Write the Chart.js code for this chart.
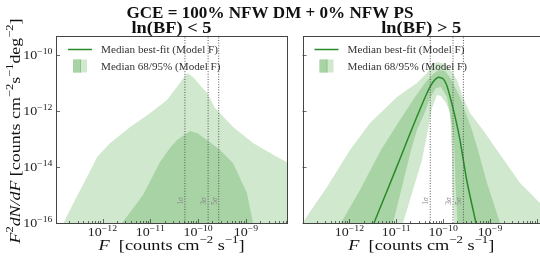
<!DOCTYPE html>
<html><head><meta charset="utf-8">
<script src="https://cdn.jsdelivr.net/npm/chart.js@4/dist/chart.umd.min.js"></script>
<style>
html,body{margin:0;padding:0;background:#ffffff;}
#wrap{position:relative;width:540px;height:262px;overflow:hidden;background:#fff;}
#wrap canvas{position:absolute;left:0;top:0;}
</style></head><body>
<div id="wrap"><canvas id="cL" width="540" height="262"></canvas><canvas id="cR" width="540" height="262"></canvas></div>
<script>
// ---------------- data ----------------
const figTitle = 'GCE = 100% NFW DM + 0% NFW PS';
const panelTitles = ['ln(BF) < 5', 'ln(BF) > 5'];
const legendLabels = ['Median best-fit (Model F)', 'Median 68/95% (Model F)'];
const xTickExps = [-12, -11, -10, -9];
const yTickExps = [-16, -14, -12, -10];
const sigmaNames = ['1', '3', '5'];
const sigmaFlux = [5.3e-11, 1.62e-10, 2.7e-10];

// left panel: ln(BF) < 5  (upper edges of 95% and 68% bands, lower edges below plot)
const leftF95 = [1.17e-13, 1.52e-13, 2.66e-13, 5.0e-13, 7.7e-13, 1.45e-12, 3.8e-12, 1.0e-11, 2.24e-11, 4.2e-11, 5.9e-11, 7.8e-11, 1.1e-10, 1.55e-10, 2.24e-10, 5.4e-10, 1.41e-9, 4.5e-9, 9.1e-9];
const leftU95 = [3.7e-17, 1e-16, 6.6e-16, 5.1e-15, 2.24e-14, 7.1e-14, 2.63e-13, 8.3e-13, 2.4e-12, 9.8e-12, 2.19e-11, 1.58e-11, 8.1e-12, 4.3e-12, 1.26e-12, 2.63e-13, 7.1e-14, 2.24e-14, 1.17e-14];
const leftF68 = [2.11e-12, 2.56e-12, 7.03e-12, 1.60e-11, 2.58e-11, 3.62e-11, 6.78e-11, 9.49e-11, 1.53e-10, 2.87e-10, 5.37e-10, 1.05e-9, 1.41e-9, 1.63e-9];
const leftU68 = [3.7e-17, 1e-16, 9.9e-16, 1.49e-14, 4.69e-14, 9.04e-14, 1.89e-13, 1.60e-13, 9.04e-14, 3.98e-14, 1.37e-14, 1.17e-15, 1e-16, 3.7e-17];

// right panel: ln(BF) > 5
const rightFU95 = [7.26e-14, 1.03e-13, 3.33e-13, 1.03e-12, 2.75e-12, 1.035e-11, 2.76e-11, 4.52e-11, 5.50e-11, 7.38e-11, 1.09e-10, 1.54e-10, 1.97e-10, 2.64e-10, 3.72e-10, 7.06e-10, 1.40e-9, 4.35e-9, 1.16e-8, 1.89e-8];
const rightU95 = [4.8e-17, 1.09e-16, 1.91e-15, 3.98e-14, 3.64e-13, 3.07e-12, 9.68e-12, 2.20e-11, 3.90e-11, 5.41e-11, 4.59e-11, 2.39e-11, 1.24e-11, 3.07e-12, 8.27e-13, 2.05e-13, 3.98e-14, 2.66e-15, 5.16e-16, 2.27e-16];
const rightFL95 = [7.26e-14, 1.087e-11, 1.39e-11, 2.27e-11, 3.53e-11, 4.74e-11, 5.77e-11, 7.38e-11, 8.97e-11, 1.15e-10, 1.40e-10, 1.52e-10, 1.58e-10, 1.70e-10, 1.79e-10, 1.89e-8];
const rightL95 = [1e-20, 2.48e-17, 1e-16, 1.50e-15, 1.75e-14, 2.05e-13, 1.245e-12, 3.62e-12, 3.33e-12, 1.88e-12, 8.97e-13, 3.98e-14, 2.66e-15, 1e-16, 2.48e-17, 1e-20];
const rightFU68 = [6.0e-13, 6.62e-13, 1.68e-12, 4.72e-12, 1.20e-11, 2.27e-11, 4.09e-11, 6.07e-11, 8.13e-11, 1.09e-10, 1.47e-10, 2.28e-10, 4.11e-10, 5.52e-10, 8.59e-10, 1.63e-9, 1.88e-9];
const rightU68 = [3.7e-17, 1e-16, 1.50e-15, 3.98e-14, 4.66e-13, 2.40e-12, 9.68e-12, 2.02e-11, 2.81e-11, 2.59e-11, 1.34e-11, 3.07e-12, 2.05e-13, 3.98e-14, 2.66e-15, 1e-16, 4.8e-17];
const rightFL68 = [6.0e-13, 6.65e-12, 8.51e-12, 1.39e-11, 2.06e-11, 2.76e-11, 4.09e-11, 5.24e-11, 7.01e-11, 8.97e-11, 1.205e-10, 1.60e-10, 1.74e-10, 1.83e-10, 2.02e-10, 2.17e-10, 1.88e-9];
const rightL68 = [1e-20, 2.48e-17, 1e-16, 2.66e-15, 3.98e-14, 2.05e-13, 8.97e-13, 2.83e-12, 6.42e-12, 6.97e-12, 3.07e-12, 2.05e-13, 3.98e-14, 2.66e-15, 1e-16, 2.48e-17, 1e-20];
const rightFMed = [2.89e-12, 3.35e-12, 6.34e-12, 1.30e-11, 1.77e-11, 2.72e-11, 4.45e-11, 6.07e-11, 7.87e-11, 1.005e-10, 1.205e-10, 1.40e-10, 1.79e-10, 2.28e-10, 3.17e-10, 5.0e-10, 5.52e-10];
const rightMed = [4.8e-17, 1e-16, 1.38e-15, 2.7e-14, 1.0e-13, 5.8e-13, 4.0e-12, 1.05e-11, 1.55e-11, 1.34e-11, 7.56e-12, 3.15e-12, 6.11e-13, 9.04e-14, 3.40e-15, 1e-16, 4.8e-17];

// axis limits
const Y_MIN = 1e-16, Y_MAX = 4.75e-10;
const L_XMIN = 1.064e-13, L_XMAX = 7.24e-9;
const R_XMIN = 1.0e-13, R_XMAX = 1.16e-8;

// ---------------- style ----------------
const SERIF = '"Liberation Serif","DejaVu Serif","Times New Roman",serif';
const C_LIGHT = 'rgb(208,232,205)';
const C_MED = 'rgb(168,211,165)';
const C_LINE = 'rgb(40,138,40)';
const C_AXIS = '#444';

function pts(xs, ys) { return xs.map((x, i) => ({ x: x, y: ys[i] })); }
function fnt(sz, it, bold) { return (it ? 'italic ' : '') + (bold ? 'bold ' : '') + sz + 'px ' + SERIF; }
function richWidth(ctx, segs, size, bold) {
  let w = 0;
  for (const s of segs) {
    ctx.font = fnt(s.sup ? size * 0.7 : size, s.it, bold);
    w += ctx.measureText(s.t).width;
  }
  return w;
}
function drawRich(ctx, segs, x, y, o) {
  const size = o.size, bold = !!o.bold;
  const w = richWidth(ctx, segs, size, bold);
  const sx = o.width ? o.width / w : (o.sx || 1);
  ctx.save();
  ctx.translate(x, y);
  if (o.rot) ctx.rotate(o.rot);
  ctx.scale(sx, 1);
  let cx = o.align === 'center' ? -w / 2 : (o.align === 'right' ? -w : 0);
  ctx.fillStyle = o.color || '#111';
  ctx.textBaseline = 'alphabetic';
  ctx.textAlign = 'left';
  for (const s of segs) {
    const sz = s.sup ? size * 0.7 : size;
    ctx.font = fnt(sz, s.it, bold);
    ctx.fillText(s.t, cx, s.sup ? -size * 0.42 : 0);
    cx += ctx.measureText(s.t).width;
  }
  ctx.restore();
}
function expLabel(e) { return [{ t: '10' }, { t: '\u2212' + Math.abs(e), sup: true }]; }

function makeDecor(p) {
  return {
    id: 'decor' + p.idx,
    afterDraw(chart) {
      const ctx = chart.ctx, a = chart.chartArea, xs = chart.scales.x, ys = chart.scales.y;
      ctx.save();
      // tick marks (inward)
      ctx.strokeStyle = C_AXIS; ctx.lineWidth = 0.8;
      ctx.beginPath();
      const lo = Math.floor(Math.log10(xs.min)), hi = Math.ceil(Math.log10(xs.max));
      for (let n = lo; n <= hi; n++) {
        for (let k = 1; k <= 9; k++) {
          const v = k * Math.pow(10, n);
          if (v < xs.min || v > xs.max) continue;
          const px = Math.round(xs.getPixelForValue(v)) + 0.5;
          const len = k === 1 ? 4 : 2;
          ctx.moveTo(px, a.bottom); ctx.lineTo(px, a.bottom - len);
        }
      }
      for (const e of yTickExps) {
        const py = Math.round(ys.getPixelForValue(Math.pow(10, e))) + 0.5;
        ctx.moveTo(a.left, py); ctx.lineTo(a.left + 4, py);
      }
      ctx.stroke();
      // frame
      ctx.lineWidth = 1; ctx.strokeStyle = C_AXIS;
      const L = Math.round(a.left) + 0.5, T = Math.round(a.top) + 0.5, R = Math.round(a.right) + 0.5, B = Math.round(a.bottom) + 0.5;
      ctx.strokeRect(L, T, R - L, B - T);
      ctx.restore();

      // x tick labels
      for (const e of xTickExps) {
        const px = xs.getPixelForValue(Math.pow(10, e));
        drawRich(ctx, expLabel(e), px, a.bottom + 13, { size: 12.5, align: 'center', sx: 1.12, color: '#222' });
      }
      // y tick labels
      if (p.yLabels) {
        for (const e of yTickExps) {
          const py = ys.getPixelForValue(Math.pow(10, e));
          drawRich(ctx, expLabel(e), a.left - 3.5, py + 4.3, { size: 12.5, align: 'right', sx: 1.12, color: '#222' });
        }
        drawRich(ctx, [{ t: 'F', it: 1 }, { t: '2', sup: 1 }, { t: 'dN/dF', it: 1 }, { t: ' [counts cm' }, { t: '\u22122', sup: 1 }, { t: 's' }, { t: '\u22121', sup: 1 }, { t: 'deg' }, { t: '\u22122', sup: 1 }, { t: ']' }],
          19.5, 131, { size: 15.5, width: 225, rot: -Math.PI / 2, align: 'center', color: '#111' });
      }
      // x axis label
      const cxp = (a.left + a.right) / 2;
      drawRich(ctx, [{ t: 'F', it: 1 }, { t: '  [counts cm' }, { t: '\u22122', sup: 1 }, { t: ' s' }, { t: '\u22121', sup: 1 }, { t: ']' }],
        cxp, 249.5, { size: 15.5, width: 146, align: 'center', color: '#111' });
      // panel title
      drawRich(ctx, [{ t: panelTitles[p.idx] }], cxp, 32.5, { size: 16, bold: true, width: 80, align: 'center', color: '#111' });
      // sigma labels
      for (let i = 0; i < sigmaFlux.length; i++) {
        const px = xs.getPixelForValue(sigmaFlux[i]);
        drawRich(ctx, [{ t: sigmaNames[i] }, { t: '\u03c3', it: 1 }], px - 2.2, 201, { size: 7.5, rot: -Math.PI / 2, align: 'center', color: '#888' });
      }
      // legend
      const lx = a.left;
      ctx.save();
      ctx.strokeStyle = C_LINE; ctx.lineWidth = 1.5;
      ctx.beginPath(); ctx.moveTo(lx + 12, 49.5); ctx.lineTo(lx + 36, 49.5); ctx.stroke();
      ctx.fillStyle = C_LIGHT; ctx.fillRect(lx + 17, 59.5, 14, 13);
      ctx.fillStyle = C_MED; ctx.fillRect(lx + 17, 59.5, 7.5, 13);
      ctx.fillStyle = 'rgb(140,195,137)'; ctx.fillRect(lx + 24, 59.5, 1, 13);
      ctx.restore();
      drawRich(ctx, [{ t: legendLabels[0] }], lx + 45, 53, { size: 11, width: 117, color: '#333' });
      drawRich(ctx, [{ t: legendLabels[1] }], lx + 45, 69.5, { size: 11, width: 119.5, color: '#333' });
      // figure title
      if (p.figTitle) {
        drawRich(ctx, [{ t: figTitle }], 270, 17.5, { size: 17, bold: true, width: 287, align: 'center', color: '#111' });
      }
    }
  };
}

function sigmaSets() {
  return sigmaFlux.map(f => ({
    data: [{ x: f, y: Y_MIN }, { x: f, y: Y_MAX }],
    borderColor: '#555', borderWidth: 1, borderDash: [1, 1.6], pointRadius: 0, fill: false, order: -1
  }));
}
function band(F, Y, color, fill, order) {
  return { data: pts(F, Y), backgroundColor: color, borderColor: 'rgba(0,0,0,0)', borderWidth: 0, pointRadius: 0, fill: fill, order: order, tension: 0 };
}
function baseOptions(xmin, xmax, pad) {
  return {
    responsive: false, animation: false, devicePixelRatio: 1, events: [],
    layout: { padding: pad, autoPadding: false },
    plugins: { legend: { display: false }, tooltip: { enabled: false } },
    scales: {
      x: { type: 'logarithmic', min: xmin, max: xmax, display: false },
      y: { type: 'logarithmic', min: Y_MIN, max: Y_MAX, display: false }
    },
    elements: { point: { radius: 0 }, line: { tension: 0 } }
  };
}

new Chart(document.getElementById('cL'), {
  type: 'line',
  data: {
    datasets: [
      band(leftF68, leftU68, C_MED, 'start', 1),
      band(leftF95, leftU95, C_LIGHT, 'start', 2)
    ].concat(sigmaSets())
  },
  options: baseOptions(L_XMIN, L_XMAX, { left: 56, top: 35.5, right: 253, bottom: 39 }),
  plugins: [makeDecor({ idx: 0, yLabels: true })]
});

new Chart(document.getElementById('cR'), {
  type: 'line',
  data: {
    datasets: [
      { data: pts(rightFMed, rightMed), borderColor: C_LINE, borderWidth: 1.5, pointRadius: 0, fill: false, order: 0, tension: 0.25 },
      band(rightFU68, rightU68, C_MED, 2, 1),
      band(rightFL68, rightL68, 'rgba(0,0,0,0)', false, 2),
      band(rightFU95, rightU95, C_LIGHT, 4, 3),
      band(rightFL95, rightL95, 'rgba(0,0,0,0)', false, 4)
    ].concat(sigmaSets())
  },
  options: baseOptions(R_XMIN, R_XMAX, { left: 302.5, top: 35.5, right: 0, bottom: 39 }),
  plugins: [makeDecor({ idx: 1, yLabels: false, figTitle: true })]
});
</script>
</body></html>
